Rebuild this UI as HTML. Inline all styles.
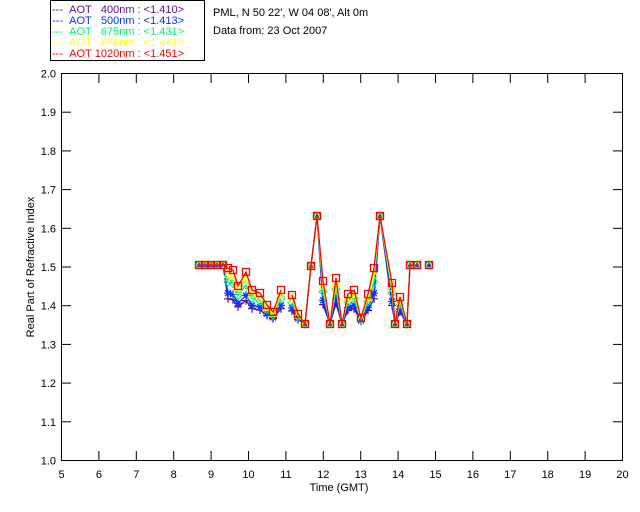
<!DOCTYPE html>
<html><head><style>
html,body{margin:0;padding:0;background:#fff;}
svg{display:block;font-family:"Liberation Sans",sans-serif;}
text{white-space:pre;}
</style></head><body>
<svg id="s" width="640" height="512" xmlns="http://www.w3.org/2000/svg">
<rect width="640" height="512" fill="#fff"/>
<rect x="50.5" y="0.5" width="154" height="60" fill="none" stroke="#000"/>
<g font-size="11">
<text x="52" y="13" fill="#5a0a9e">---&#160;&#160;AOT&#160;&#160;&#160;400nm : &lt;1.410&gt;</text>
<text x="52" y="24" fill="#0033ff">---&#160;&#160;AOT&#160;&#160;&#160;500nm : &lt;1.413&gt;</text>
<text x="52" y="35" fill="#00ee77">---&#160;&#160;AOT&#160;&#160;&#160;675nm : &lt;1.431&gt;</text>
<text x="52" y="46" fill="#ffff00">---&#160;&#160;AOT&#160;&#160;&#160;870nm : &lt;1.441&gt;</text>
<text x="52" y="57" fill="#ff0000">---&#160;&#160;AOT&#160;1020nm : &lt;1.451&gt;</text>
<text x="213" y="16" fill="#000">PML, N 50 22', W 04 08', Alt 0m</text>
<text x="213" y="34" fill="#000">Data from: 23 Oct 2007</text>
</g>
<rect x="61.5" y="73.5" width="561" height="387" fill="none" stroke="#000"/>
<g id="ax" stroke="#000"></g>
<g id="lab" font-size="11" fill="#000"></g>
<text x="339" y="491" font-size="11" text-anchor="middle">Time (GMT)</text>
<text transform="translate(34,267) rotate(-90)" font-size="11" text-anchor="middle">Real Part of Refractive Index</text>
<g id="data"></g>
</svg>
<script>
var NS="http://www.w3.org/2000/svg";
function el(p,t,a){var e=document.createElementNS(NS,t);for(var k in a)e.setAttribute(k,a[k]);p.appendChild(e);return e;}
var ax=document.getElementById('ax'),lab=document.getElementById('lab');
for(var h=5;h<=20;h++){var x=61.5+(h-5)*37.4;
 el(ax,'line',{x1:x,y1:73,x2:x,y2:83});el(ax,'line',{x1:x,y1:461,x2:x,y2:451});
 var t=el(lab,'text',{x:x,y:478,'text-anchor':'middle'});t.textContent=h;}
for(var i=0;i<=10;i++){var y=460.5-i*38.7;
 el(ax,'line',{x1:61,y1:y,x2:71,y2:y});el(ax,'line',{x1:623,y1:y,x2:613,y2:y});
 var t=el(lab,'text',{x:56,y:y+4,'text-anchor':'end'});t.textContent=(1+i/10).toFixed(1);}
var red=[[199,265],[205,265],[211,265],[217,265],[223,265],[228,268],[233,270],[238,286],[246,272],[252,290],[260,293],[267,305],[273,312],[281,290],null,[292,295],[298,314],[305,324],[311,266],[317,216],[323,281],[330,324],[336,278],[342,324],[348,294],[354,290],[361,318],[368,294],[374,268],[380,216],[392,283],[395,324],[400,297],[407,324],[410,265],[417,265],null,[429,265]];
var base=324;
var ser=[{c:'#5a0a9e',f:0.45,m:'+'},{c:'#0033ff',f:0.55,m:'*'},{c:'#00ee77',f:0.75,m:'d'},{c:'#ffff00',f:0.88,m:'t'},{c:'#ff0000',f:1,m:'s'}];
var D=document.getElementById('data');
ser.forEach(function(s){
 var pts=red.map(function(p){if(!p)return null;var y=p[1]<=266?p[1]:base-(base-p[1])*s.f;return [p[0],y];});
 var d='',pen=false;pts.forEach(function(p){if(!p){pen=false;return;}d+=(pen?'L':'M')+p[0]+' '+p[1];pen=true;});
 el(D,'path',{d:d,fill:'none',stroke:s.c,'stroke-width':1.3});
 pts.forEach(function(p){if(!p)return;var x=p[0],y=p[1];
  if(s.m=='s')el(D,'rect',{x:x-3.5,y:y-3.5,width:7,height:7,fill:'none',stroke:s.c,'stroke-width':1.3});
  else if(s.m=='t')el(D,'path',{d:'M'+x+' '+(y-4)+'L'+(x+4)+' '+(y+3)+'L'+(x-4)+' '+(y+3)+'Z',fill:'none',stroke:s.c});
  else if(s.m=='d')el(D,'path',{d:'M'+x+' '+(y-4)+'L'+(x+4)+' '+y+'L'+x+' '+(y+4)+'L'+(x-4)+' '+y+'Z',fill:'none',stroke:s.c});
  else if(s.m=='*')el(D,'path',{d:'M'+(x-4)+' '+y+'H'+(x+4)+'M'+x+' '+(y-4)+'V'+(y+4)+'M'+(x-3)+' '+(y-3)+'L'+(x+3)+' '+(y+3)+'M'+(x+3)+' '+(y-3)+'L'+(x-3)+' '+(y+3),stroke:s.c,'stroke-width':1.2});
  else el(D,'path',{d:'M'+(x-4)+' '+y+'H'+(x+4)+'M'+x+' '+(y-4)+'V'+(y+4),stroke:s.c,'stroke-width':1.2});
 });
});
</script>
</body></html>
